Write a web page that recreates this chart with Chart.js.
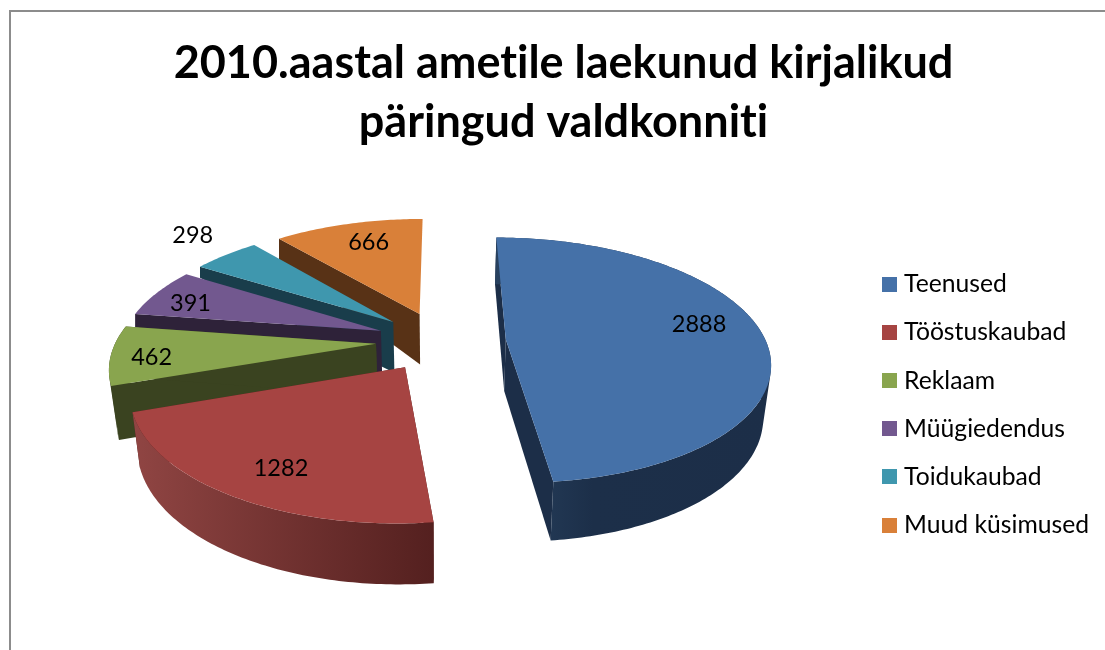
<!DOCTYPE html>
<html><head><meta charset="utf-8">
<style>html,body{margin:0;padding:0;background:#fff}canvas{display:block}</style>
<script src="https://cdn.jsdelivr.net/npm/chart.js@4"></script>
</head><body><canvas id="c" width="1105" height="650"></canvas>
<script>
const titleLines = ['2010.aastal ametile laekunud kirjalikud', 'päringud valdkonniti'];
const categories = ['Teenused', 'Tööstuskaubad', 'Reklaam', 'Müügiedendus', 'Toidukaubad', 'Muud küsimused'];
const values = [2888, 1282, 462, 391, 298, 666];
const topColors = ['#4571a8', '#a64442', '#89a54e', '#72588f', '#3f97ae', '#d98039'];
const wallStops = [
  [[0, '#28415f'], [0.35, '#1c2f49'], [1, '#1c2e48']],
  [[0, '#904543'], [1, '#54201f']],
  [[0, '#3a4320'], [1, '#3a4320']],
  [[0, '#2e2239'], [1, '#2e2239']],
  [[0, '#193d4b'], [1, '#193d4b']],
  [[0, '#583216'], [1, '#583216']]
];
// Excel-style 3D look: scene constants
const scene = {x: 441, y: 341, radius: 260, explode: 65, tilt: 0.46, persp: 0.17};
const backWallDrop = [null, null, null, 13, 11, 22];
const labelAngle = [79.8, 209.7, 262.8, 288.2, 313.4, 342];
const labelDist = [203, 204, 220, 215, 335, 201];
const FONT = 'Lato';

function project(u, v) {
  const w = 1 - scene.persp * v / scene.radius;
  return [scene.x + u / w, scene.y + scene.tilt * v / w];
}
function drop(p) {
  return [scene.x + (p[0] - scene.x) * 0.976, p[1] + 52 + (p[1] - 345) * 0.05];
}
function poly(ctx, pts, fill) {
  ctx.beginPath();
  pts.forEach((p, i) => i ? ctx.lineTo(p[0], p[1]) : ctx.moveTo(p[0], p[1]));
  ctx.closePath();
  ctx.fillStyle = fill;
  ctx.fill();
}
function quadStrip(ctx, rim, fill) {
  ctx.beginPath();
  for (let k = 0; k < rim.length - 1; k++) {
    let q = [rim[k], rim[k + 1], drop(rim[k + 1]), drop(rim[k])];
    let area = 0;
    q.forEach((p, i) => { const n = q[(i + 1) % 4]; area += p[0] * n[1] - n[0] * p[1]; });
    if (area < 0) q = q.reverse();
    q.forEach((p, i) => i ? ctx.lineTo(p[0], p[1]) : ctx.moveTo(p[0], p[1]));
    ctx.closePath();
  }
  ctx.fillStyle = fill;
  ctx.fill('nonzero');
}
function sliceGeometry(arc) {
  const s = arc.startAngle + Math.PI / 2, e = arc.endAngle + Math.PI / 2;
  const mid = (s + e) / 2, off = arc.options.offset, R = arc.outerRadius;
  const ox = off * Math.sin(mid), oy = -off * Math.cos(mid);
  const rim = [];
  const n = Math.max(2, Math.ceil((e - s) / 0.015));
  for (let k = 0; k <= n; k++) {
    const t = s + (e - s) * k / n;
    rim.push(project(ox + R * Math.sin(t), oy - R * Math.cos(t)));
  }
  return {apex: project(ox, oy), rim, ox, oy};
}
const pie3d = {
  id: 'pie3d',
  beforeDraw(chart) {
    const c = chart.ctx;
    c.save();
    c.fillStyle = '#fff'; c.fillRect(0, 0, 1105, 650);
    c.fillStyle = '#8c8c8c';
    c.fillRect(9, 10, 1096, 2);
    c.fillRect(9, 10, 2, 640);
    c.restore();
    c.textRendering = 'optimizeSpeed';
  },
  beforeDatasetsDraw(chart) {
    const c = chart.ctx, arcs = chart.getDatasetMeta(0).data;
    c.save();
    for (let i = arcs.length - 1; i >= 0; i--) {
      const g = sliceGeometry(arcs[i]);
      const first = g.rim[0], last = g.rim[g.rim.length - 1];
      const dApex = drop(g.apex);
      const back = backWallDrop[i];
      const solid = wallStops[i][wallStops[i].length - 1][1];
      if (back !== null) {
        poly(c, [first, g.apex, dApex, [first[0], first[1] + back]], solid);
      } else {
        poly(c, [first, g.apex, dApex, drop(first)], solid);
        poly(c, [last, g.apex, dApex, drop(last)], solid);
        const xs = g.rim.map(p => p[0]);
        const grad = c.createLinearGradient(Math.min(...xs), 0, Math.max(...xs), 0);
        wallStops[i].forEach(st => grad.addColorStop(st[0], st[1]));
        quadStrip(c, g.rim, grad);
      }
      poly(c, [g.apex].concat(g.rim), topColors[i]);
    }
    c.fillStyle = '#000';
    c.font = '400 23.5px ' + FONT;
    c.textAlign = 'center';
    c.textBaseline = 'middle';
    arcs.forEach((arc, i) => {
      const g = sliceGeometry(arc), a = labelAngle[i] * Math.PI / 180;
      const p = project(g.ox + labelDist[i] * Math.sin(a), g.oy - labelDist[i] * Math.cos(a));
      c.fillText(String(values[i]), p[0], p[1] + 1);
    });
    c.restore();
    return false;
  }
};
function swatch(color) {
  const s = document.createElement('canvas');
  s.width = 15; s.height = 15;
  const x = s.getContext('2d');
  x.fillStyle = color; x.fillRect(0, 0, 15, 15);
  return s;
}
new Chart(document.getElementById('c'), {
  type: 'pie',
  data: {labels: categories, datasets: [{data: values, backgroundColor: topColors, borderWidth: 0, offset: scene.explode, radius: scene.radius, clip: false}]},
  plugins: [pie3d],
  options: {
    responsive: false,
    animation: false,
    radius: scene.radius,
    layout: {padding: {left: 28, right: 6, top: 0, bottom: 89}},
    plugins: {
      tooltip: {enabled: false},
      title: {
        display: true,
        text: titleLines,
        color: '#000',
        font: {family: FONT, size: 45, weight: 'bold', lineHeight: 1.333},
        padding: {top: 33, bottom: 10}
      },
      legend: {
        position: 'right',
        align: 'end',
        labels: {
          font: {family: FONT, size: 24.7},
          color: '#000',
          usePointStyle: true,
          pointStyleWidth: 5,
          padding: 23.5,
          boxHeight: 15,
          generateLabels: () => categories.map((t, i) => ({
            text: t, fontColor: '#000', pointStyle: swatch(topColors[i]), index: i, lineWidth: 0, strokeStyle: 'transparent', fillStyle: topColors[i]
          }))
        }
      }
    }
  }
});
</script></body></html>
